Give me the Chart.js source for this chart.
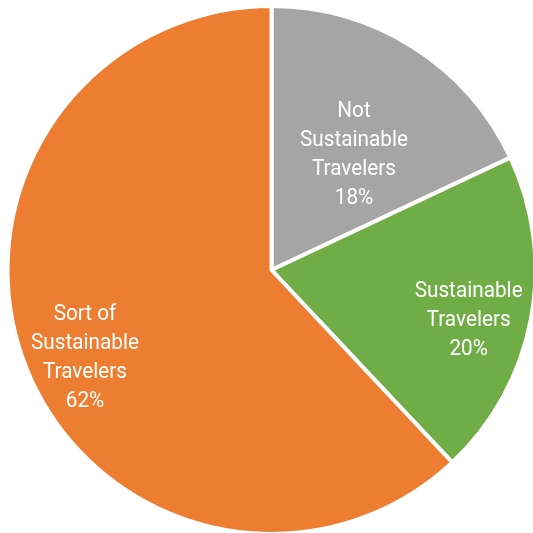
<!DOCTYPE html>
<html>
<head>
<meta charset="utf-8">
<script src="https://cdn.jsdelivr.net/npm/chart.js@4/dist/chart.umd.min.js"></script>
<style>
  html, body { margin: 0; padding: 0; background: #ffffff; }
  #wrap { width: 533px; height: 533px; }
</style>
</head>
<body>
<div id="wrap"><canvas id="c" width="533" height="533"></canvas></div>
<script>
// Traveler segments and their shares (percent)
const categories = [
  ['Not', 'Sustainable', 'Travelers'],
  ['Sustainable', 'Travelers'],
  ['Sort of', 'Sustainable', 'Travelers']
];
const shares = [18, 20, 62];
const sliceColors = ['#A5A5A5', '#70AD47', '#ED7D31'];

// Label anchor: fraction of the radius along the slice's mid-angle, plus an angle nudge (deg)
const labelPlacement = [
  { frac: 0.545, nudge: 2.6 },
  { frac: 0.769, nudge: 3.0 },
  { frac: 0.777, nudge: -3.0 }
];

const FONT_PX = 22;
const LINE_H = 29;
const CAP_H = 16;
// narrow look: squeeze glyphs horizontally so "Sustainable" spans ~108px
const WIDE_WORD_PX = 108;

const sliceLabels = {
  id: 'sliceLabels',
  afterDatasetsDraw(chart) {
    const ctx = chart.ctx;
    const meta = chart.getDatasetMeta(0);
    ctx.save();
    ctx.fillStyle = '#ffffff';
    ctx.font = FONT_PX + 'px Roboto, "Liberation Sans", sans-serif';
    ctx.textAlign = 'center';
    ctx.textBaseline = 'alphabetic';
    const sx = WIDE_WORD_PX / ctx.measureText('Sustainable').width;
    meta.data.forEach((arc, i) => {
      const p = arc.getProps(['x', 'y', 'startAngle', 'endAngle', 'outerRadius'], true);
      const place = labelPlacement[i];
      const mid = (p.startAngle + p.endAngle) / 2 + place.nudge * Math.PI / 180;
      const r = p.outerRadius * place.frac;
      const cx = p.x + Math.cos(mid) * r;
      const cy = p.y + Math.sin(mid) * r;
      const lines = categories[i].concat([shares[i] + '%']);
      const first = cy - (lines.length - 1) * LINE_H / 2 + CAP_H / 2;
      lines.forEach((t, k) => {
        ctx.save();
        ctx.translate(cx, first + k * LINE_H);
        ctx.scale(sx, 1);
        ctx.fillText(t, 0, 0);
        ctx.restore();
      });
    });
    ctx.restore();
  }
};

new Chart(document.getElementById('c'), {
  type: 'pie',
  data: {
    labels: categories.map(c => c.join(' ')),
    datasets: [{
      data: shares,
      backgroundColor: sliceColors,
      borderColor: '#ffffff',
      borderWidth: 4,
      radius: 264,
      clip: false
    }]
  },
  options: {
    responsive: false,
    animation: false,
    events: [],
    layout: { padding: { left: 10, right: 0, top: 7, bottom: 0 } },
    plugins: {
      legend: { display: false },
      tooltip: { enabled: false }
    }
  },
  plugins: [sliceLabels]
});
</script>
</body>
</html>
